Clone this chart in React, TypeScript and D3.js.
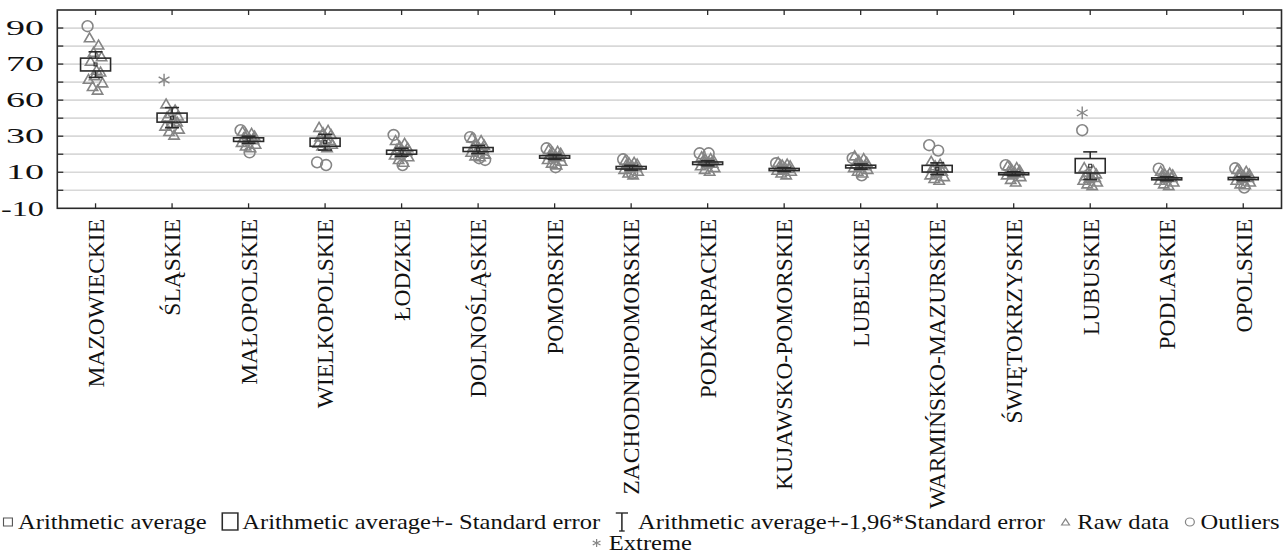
import React, { useMemo } from 'react';
import * as d3 from 'd3';

const categories = ['MAZOWIECKIE', 'ŚLĄSKIE', 'MAŁOPOLSKIE', 'WIELKOPOLSKIE', 'ŁODZKIE', 'DOLNOŚLĄSKIE', 'POMORSKIE', 'ZACHODNIOPOMORSKIE', 'PODKARPACKIE', 'KUJAWSKO-POMORSKIE', 'LUBELSKIE', 'WARMIŃSKO-MAZURSKIE', 'ŚWIĘTOKRZYSKIE', 'LUBUSKIE', 'PODLASKIE', 'OPOLSKIE'];
const meanValues = [69.9, 45.4, 28.1, 26.7, 21.1, 22.6, 18.5, 12.5, 15.0, 11.5, 13.2, 11.9, 9.2, 13.6, 6.4, 6.5];
const seLower = [68.1, 41.7, 27.1, 24.4, 20.0, 21.5, 17.8, 11.8, 14.3, 10.9, 12.4, 10.1, 8.6, 9.6, 5.8, 5.9];
const seUpper = [73.3, 49.2, 29.1, 28.9, 22.2, 23.7, 19.2, 13.2, 15.7, 12.1, 13.9, 13.8, 9.7, 17.6, 6.9, 7.1];
const ciLower = [66.3, 37.1, 26.1, 22.3, 18.9, 20.4, 17.1, 11.2, 13.6, 10.4, 11.7, 8.7, 8.1, 6.0, 5.3, 5.4];
const ciUpper = [76.8, 53.8, 30.0, 31.5, 23.3, 24.8, 19.9, 13.8, 16.4, 12.6, 14.6, 15.2, 10.3, 21.3, 7.5, 7.6];

const rawValues = [
  [84, 80, 76, 73.5, 71, 68, 67.5, 66.5, 65.5, 64.5, 63.5, 62.5],
  [56, 51, 48, 46, 45, 43, 41, 39.5, 37.5, 35, 33, 30],
  [33, 31.5, 30.5, 29.5, 28.5, 28, 27.5, 27, 26, 25, 24, 23],
  [36.5, 34, 32, 30.5, 29, 28, 27, 26, 25.5, 25, 24, 23],
  [27, 25.5, 24, 23, 22, 21.5, 21, 20, 19, 18, 16.5, 15],
  [28.5, 27, 25.5, 24.5, 23.5, 23, 22.5, 21.5, 20.5, 19.5, 18.5, 18],
  [22, 21, 20.5, 20, 19, 18.5, 18, 17.5, 16.5, 15.5, 14.5, 13.5],
  [16, 15, 14.5, 14, 13.5, 13, 12.5, 12, 11, 10, 9, 8],
  [18, 17, 16.5, 16, 15.5, 15, 14.5, 14, 13, 12, 11, 10],
  [15, 14, 13.5, 13, 12.5, 12, 11.5, 11, 10.5, 10, 9, 8],
  [18.5, 17, 16, 15, 14, 13.5, 13, 12.5, 12, 11, 10, 9],
  [15.5, 14, 13, 12, 11.5, 11, 10, 9, 8, 7, 6, 5],
  [13, 12, 11, 10.5, 10, 9.5, 9, 8.5, 8, 7, 5.5, 4],
  [12, 10.5, 9.5, 8.5, 7.5, 7, 6.5, 6, 5, 4, 3, 2],
  [10, 9, 8.5, 8, 7.5, 7, 6.5, 6, 5, 4, 3, 2],
  [11, 10, 9, 8.5, 8, 7, 6.5, 6, 5, 4, 3, 2.5],
];
const outlierValues = [
  [91], [], [35, 21], [15.5, 14], [31, 14], [29.5, 17.8, 16.8], [23.3, 12.8], [17.2, 9.4],
  [20.5, 20.5], [15], [17.8, 8.3], [25, 22], [13.9], [35], [12], [12.2, 1.5],
];
const extremeValues = [[], [65.6], [], [], [], [], [], [], [], [], [], [], [], [49.4], [], []];

const yTickLabels = [90, 70, 60, 30, 10, -10];
const yGridValues = [90, 80, 70, 65, 60, 45, 30, 20, 10, 0];
const yScaleBreaks = [-10, 10, 30, 60, 70, 90, 100];

const legendRow1 = [
  { sym: 'mean', text: 'Arithmetic average' },
  { sym: 'box', text: 'Arithmetic average+- Standard error' },
  { sym: 'ci', text: 'Arithmetic average+-1,96*Standard error' },
  { sym: 'tri', text: 'Raw data' },
  { sym: 'circ', text: 'Outliers' },
];
const legendRow2 = [{ sym: 'ast', text: 'Extreme' }];

const W = 1284;
const H = 558;
const M = { left: 57.3, right: 1281.5, top: 10, bottom: 208.3 };
const jitterPattern = [-6, 3, -2, 6, -5, 1, 5, -1, -7, 7, -3, 2];
const outJitter = [-8, 1, 7, -4];
const GRAY = '#858585';
const DARK = '#2a2a2a';
const SERIF = '"Liberation Serif", Tinos, "Times New Roman", "DejaVu Serif", serif';

function measure(text: string, font: string): number {
  const c = document.createElement('canvas').getContext('2d');
  if (!c) return text.length * 10;
  c.font = font;
  return c.measureText(text).width;
}

export default function App() {
  const x = d3.scaleBand<string>().domain(categories).range([M.left, M.right]).paddingInner(0).paddingOuter(0);
  const bw = x.bandwidth();
  const cx = (c: string) => (x(c) as number) + bw / 2;
  const step = (M.bottom - M.top) / 11;
  const idx = [0, 2, 4, 6, 8, 10, 11];
  const y = d3.scaleLinear().domain(yScaleBreaks).range(idx.map((i) => M.bottom - i * step));

  const tri = d3.symbol(d3.symbolTriangle, 46)() as string;
  const ast = d3.symbol(d3.symbolAsterisk, 110)() as string;
  const triSmall = d3.symbol(d3.symbolTriangle, 22)() as string;
  const astSmall = d3.symbol(d3.symbolAsterisk, 45)() as string;

  const legendFontSize = 22;
  const legendFont = `${legendFontSize}px ${SERIF}`;
  const symW: Record<string, number> = { mean: 9, box: 15, ci: 11, tri: 9, circ: 9, ast: 10 };
  const symGap: Record<string, number> = { mean: 4, box: 3, ci: 9, tri: 6, circ: 5, ast: 6 };
  const itemGap = 14;

  const layoutRow = (row: { sym: string; text: string }[]) => {
    let pos = 0;
    const items = row.map((it) => {
      const sx = pos;
      const tx = sx + symW[it.sym] + symGap[it.sym];
      const tw = measure(it.text, legendFont);
      pos = tx + tw + itemGap;
      return { ...it, sx, tx, tw };
    });
    return { items, width: pos - itemGap };
  };
  const r1 = useMemo(() => layoutRow(legendRow1), []);
  const r2 = useMemo(() => layoutRow(legendRow2), []);
  const targetW = 1276;
  const lsx = targetW / r1.width;
  const legendCenter = 641.5;
  const txtStyle = { fontFamily: SERIF };

  const renderSym = (sym: string, x0: number, yc: number) => {
    switch (sym) {
      case 'mean':
        return <rect x={x0} y={yc - 4} width={8} height={8} fill="none" stroke="#555" strokeWidth={1} />;
      case 'box':
        return <rect x={x0} y={yc - 9} width={14} height={17} fill="none" stroke={DARK} strokeWidth={1.4} />;
      case 'ci':
        return (
          <g stroke={DARK} strokeWidth={1.4} fill="none">
            <line x1={x0} x2={x0 + 11} y1={yc - 9} y2={yc - 9} />
            <line x1={x0 + 5.5} x2={x0 + 5.5} y1={yc - 9} y2={yc + 9} />
            <line x1={x0 + 3} x2={x0 + 8} y1={yc + 9} y2={yc + 9} />
          </g>
        );
      case 'tri':
        return <path d={triSmall} transform={`translate(${x0 + 4.5},${yc + 1})`} fill="none" stroke={GRAY} strokeWidth={1.1} />;
      case 'circ':
        return <circle cx={x0 + 4.5} cy={yc} r={4} fill="none" stroke={GRAY} strokeWidth={1.1} />;
      case 'ast':
        return <path d={astSmall} transform={`translate(${x0 + 5},${yc})`} fill="none" stroke={GRAY} strokeWidth={1.1} />;
      default:
        return null;
    }
  };

  const row1Y = 529;
  const row2Y = 550;

  return (
    <svg width={W} height={H} style={{ position: 'absolute', left: 0, top: 0, background: '#fff' }}>
      <rect x={0} y={0} width={W} height={H} fill="#fff" />
      {yGridValues.map((v) => (
        <line key={`g${v}`} x1={M.left} x2={M.right} y1={y(v)} y2={y(v)} stroke="#d8d8d8" strokeWidth={1.7} />
      ))}
      {yGridValues.map((v) => (
        <g key={`t${v}`} stroke={DARK} strokeWidth={1.3}>
          <line x1={M.left} x2={M.left + 6} y1={y(v)} y2={y(v)} />
          <line x1={M.right - 5} x2={M.right} y1={y(v)} y2={y(v)} />
        </g>
      ))}
      {categories.map((c) => (
        <g key={`xt${c}`} stroke={DARK} strokeWidth={1.3}>
          <line x1={cx(c)} x2={cx(c)} y1={M.top} y2={M.top + 5} />
          <line x1={cx(c)} x2={cx(c)} y1={M.bottom - 5} y2={M.bottom} />
        </g>
      ))}
      {yTickLabels.map((v) => {
        const s = String(v);
        return (
          <text
            key={`yl${v}`}
            x={44}
            y={y(v) + 7.2}
            textAnchor="end"
            fontSize={21}
            fill="#111"
            style={txtStyle}
            textLength={s.length === 3 ? 43 : 38}
            lengthAdjust="spacingAndGlyphs"
          >
            {s}
          </text>
        );
      })}
      {categories.map((c) => (
        <text
          key={`xl${c}`}
          transform={`translate(${cx(c) + 8.3},219) rotate(-90)`}
          textAnchor="end"
          fontSize={23.5}
          fill="#111"
          style={txtStyle}
        >
          {c}
        </text>
      ))}
      {categories.map((c, i) => (
        <g key={`raw${c}`} fill="none" stroke={GRAY} strokeWidth={1.6}>
          {rawValues[i].map((v, j) => (
            <path key={j} d={tri} transform={`translate(${cx(c) + jitterPattern[j % jitterPattern.length]},${y(v)})`} />
          ))}
          {outlierValues[i].map((v, j) => (
            <circle key={`o${j}`} cx={cx(c) + outJitter[j % outJitter.length]} cy={y(v)} r={5.4} />
          ))}
          {extremeValues[i].map((v, j) => (
            <path key={`e${j}`} d={ast} transform={`translate(${cx(c) - 8},${y(v)})`} strokeWidth={1.4} />
          ))}
        </g>
      ))}
      {categories.map((c, i) => {
        const xc = cx(c);
        return (
          <g key={`box${c}`} stroke={DARK} strokeWidth={1.6} fill="none">
            <line x1={xc} x2={xc} y1={y(seUpper[i])} y2={y(ciUpper[i])} />
            <line x1={xc} x2={xc} y1={y(seLower[i])} y2={y(ciLower[i])} />
            <line x1={xc - 7} x2={xc + 7} y1={y(ciUpper[i])} y2={y(ciUpper[i])} />
            <line x1={xc - 7} x2={xc + 7} y1={y(ciLower[i])} y2={y(ciLower[i])} />
            <rect x={xc - 15} width={30} y={y(seUpper[i])} height={y(seLower[i]) - y(seUpper[i])} />
            <rect x={xc - 1.5} width={3} y={y(meanValues[i]) - 1.5} height={3} strokeWidth={1} />
          </g>
        );
      })}
      <rect x={M.left} y={M.top} width={M.right - M.left} height={M.bottom - M.top} fill="none" stroke={DARK} strokeWidth={1.6} />
      <g transform={`translate(${legendCenter - (r1.width * lsx) / 2},0) scale(${lsx},1)`}>
        {r1.items.map((it) => (
          <g key={it.text}>
            {renderSym(it.sym, it.sx, row1Y - 7)}
            <text x={it.tx} y={row1Y} fontSize={legendFontSize} fill="#111" style={txtStyle}>{it.text}</text>
          </g>
        ))}
      </g>
      <g transform={`translate(${legendCenter - (r2.width * lsx) / 2},0) scale(${lsx},1)`}>
        {r2.items.map((it) => (
          <g key={it.text}>
            {renderSym(it.sym, it.sx, row2Y - 7)}
            <text x={it.tx} y={row2Y} fontSize={legendFontSize} fill="#111" style={txtStyle}>{it.text}</text>
          </g>
        ))}
      </g>
    </svg>
  );
}
